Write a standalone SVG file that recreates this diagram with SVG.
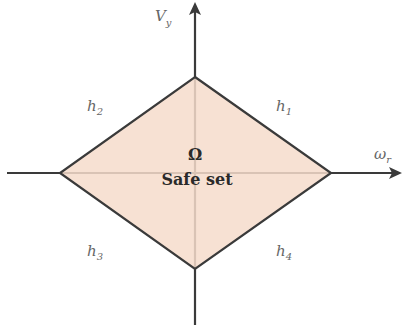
<svg xmlns="http://www.w3.org/2000/svg" width="404" height="333" viewBox="0 0 404 333">
<style>
.ax{stroke:#3a3a3a;stroke-width:2.2;fill:none}
.head{fill:#3a3a3a}
.lbl{font-family:'DejaVu Serif',serif;font-style:italic;fill:#666;font-size:15px}
.sub{font-size:10px}
.bold{font-family:'DejaVu Serif',serif;font-weight:bold;fill:#2a2a2a;font-size:16px;text-anchor:middle}
</style>
<rect width="404" height="333" fill="#fff"/>
<g id="connectors">
<line class="ax" x1="7" y1="173" x2="394" y2="173"/>
<path class="head" d="M402,173 L389,167 L392,173 L389,179 Z"/>
<line class="ax" x1="195" y1="325" x2="195" y2="10"/>
<path class="head" d="M195,2 L189,15 L195,12 L201,15 Z"/>
</g>
<g id="safe-set">
<polygon points="195,77 331,173 195,269 60,173" fill="#f6dccb" fill-opacity="0.85" stroke="#3a3a3a" stroke-width="2.2"/>
<text class="bold" x="195" y="160">Ω</text>
<text class="bold" x="197" y="185">Safe set</text>
</g>
<g id="labels">
<text class="lbl" x="155" y="21">V<tspan class="sub" dy="5">y</tspan></text>
<text class="lbl" x="374" y="159">ω<tspan class="sub" dy="4">r</tspan></text>
<text class="lbl" x="87" y="111">h<tspan class="sub" dy="4">2</tspan></text>
<text class="lbl" x="276" y="111">h<tspan class="sub" dy="4">1</tspan></text>
<text class="lbl" x="87" y="256">h<tspan class="sub" dy="4">3</tspan></text>
<text class="lbl" x="276" y="256">h<tspan class="sub" dy="4">4</tspan></text>
</g>
</svg>
